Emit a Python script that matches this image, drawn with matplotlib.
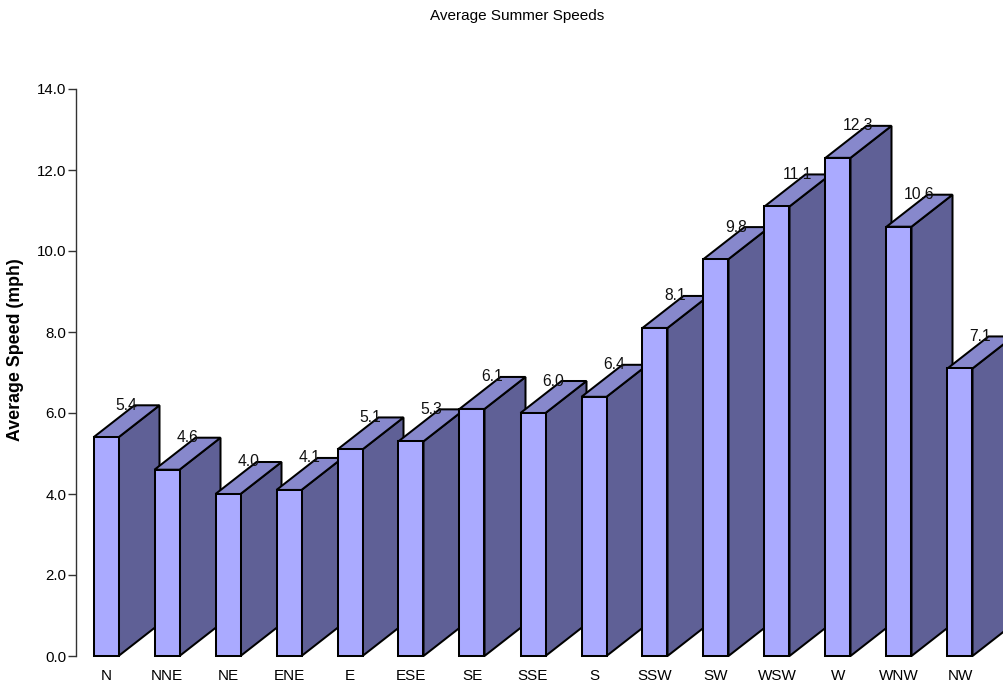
import matplotlib
matplotlib.use("Agg")
import matplotlib.pyplot as plt
from matplotlib.patches import Polygon

plt.rcParams['font.family'] = ['Liberation Sans', 'DejaVu Sans']

directions = ["N", "NNE", "NE", "ENE", "E", "ESE", "SE", "SSE", "S",
              "SSW", "SW", "WSW", "W", "WNW", "NW"]
speeds = [5.4, 4.6, 4.0, 4.1, 5.1, 5.3, 6.1, 6.0, 6.4,
          8.1, 9.8, 11.1, 12.3, 10.6, 7.1]
y_ticks = [0, 2, 4, 6, 8, 10, 12, 14]

front_color = "#aaaaff"
side_color = "#5f6096"
top_color = "#8788cc"

W, H = 1004, 685
fig = plt.figure(figsize=(W / 100, H / 100), dpi=100)

# axes placed in pixel terms: y-axis at x=76, 0 at y=656, 14 at y=89
left_px, bottom_px, top_px = 76, 656, 89
ax = fig.add_axes([left_px / W, (H - bottom_px) / H, (W - left_px) / W,
                   (bottom_px - top_px) / H])

step_px = 61.0       # spacing between categories
first_px = 106.0     # centre of first category
ymax = 14.0
px_per_unit = (bottom_px - top_px) / ymax

x0 = (left_px - first_px) / step_px
x1 = (W - first_px) / step_px
ax.set_xlim(x0, x1)
ax.set_ylim(0, ymax)

bar_w = 25.0 / step_px
dx = 41.0 / step_px
dy = 32.0 / px_per_unit
lw = 1.45

for i, v in enumerate(speeds):
    xl = i - bar_w / 2
    xr = i + bar_w / 2
    z = 2 + i * 0.01
    side = Polygon([(xr, 0), (xr + dx, dy), (xr + dx, v + dy), (xr, v)],
                   closed=True, facecolor=side_color, edgecolor="black",
                   linewidth=lw, zorder=z, clip_on=False, joinstyle="miter")
    top = Polygon([(xl, v), (xr, v), (xr + dx, v + dy), (xl + dx, v + dy)],
                  closed=True, facecolor=top_color, edgecolor="black",
                  linewidth=lw, zorder=z, clip_on=False, joinstyle="miter")
    front = Polygon([(xl, 0), (xr, 0), (xr, v), (xl, v)],
                    closed=True, facecolor=front_color, edgecolor="black",
                    linewidth=lw, zorder=z, clip_on=False, joinstyle="miter")
    for p in (side, top, front):
        ax.add_patch(p)

for i, v in enumerate(speeds):
    ax.text(i + dx / 2, v + dy, f"{v:.1f}", ha="center", va="center",
            fontsize=11.3, color="#111111", zorder=10, clip_on=False)

# category labels just below the baseline
ax.set_xticks([])
label_y = -(676 - bottom_px) / px_per_unit
for i, name in enumerate(directions):
    ax.text(i, label_y, name, ha="center", va="center", fontsize=11,
            clip_on=False)

ax.set_yticks(y_ticks)
ax.set_yticklabels([f"{t:.1f}" for t in y_ticks], fontsize=10.8)
ax.tick_params(axis="y", length=6, width=1, color="#333333", pad=1)

for s in ("top", "right", "bottom"):
    ax.spines[s].set_visible(False)
ax.spines["left"].set_color("#333333")
ax.spines["left"].set_linewidth(1)
ax.set_facecolor("none")

fig.text(16 / W, 1 - 350 / H, "Average Speed (mph)", ha="center",
         va="center", rotation=90, fontsize=12.8, fontweight="bold")

fig.text(517 / W, 1 - 16 / H, "Average Summer Speeds", ha="center",
         va="center", fontsize=11)

fig.savefig("out.png", dpi=100)
